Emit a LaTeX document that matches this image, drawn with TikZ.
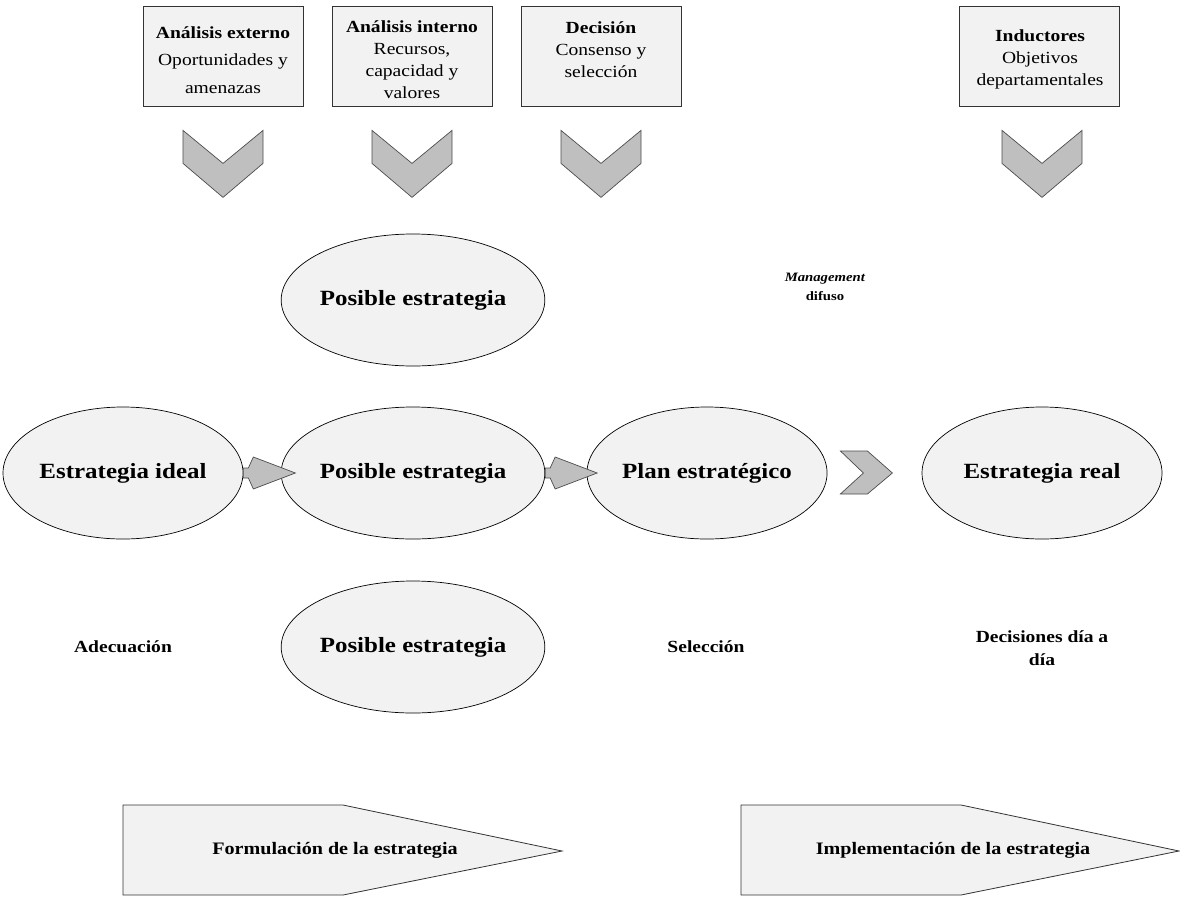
\documentclass[tikz,border=0pt]{standalone}
\usepackage{fontspec}
\setmainfont{Liberation Serif}[FakeStretch=1.15]
\usetikzlibrary{shapes.geometric,calc}
\definecolor{panel}{HTML}{F2F2F2}
\definecolor{chev}{HTML}{BFBFBF}
\begin{document}
\begin{tikzpicture}[x=1pt,y=-1pt,
  box/.style={draw=black!80, fill=panel, minimum width=160pt, minimum height=100pt, inner sep=0pt, line width=0.8pt},
  boxtext/.style={align=center, font=\fontsize{17}{22}\selectfont, inner sep=0pt},
  oval/.style={ellipse, draw=black, fill=panel, minimum width=240pt, minimum height=132pt, inner sep=0pt,
    font=\fontsize{21.7}{26}\selectfont\bfseries, line width=0.7pt},
  chevron/.style={draw=black!70, fill=chev, line width=0.7pt, line join=miter},
  caption/.style={font=\fontsize{17}{23}\selectfont\bfseries, align=center, inner sep=0pt},
  phase/.style={draw=black!80, fill=panel, line width=0.8pt},
  phasetext/.style={font=\fontsize{17.5}{21}\selectfont\bfseries, inner sep=0pt},
  downchev/.pic={\draw[chevron] (-40,0) -- (0,33) -- (40,0) -- (40,33) -- (0,67) -- (-40,33) -- cycle;},
  rightchev/.pic={\draw[chevron] (0,-22) -- (27,-22) -- (52,0) -- (27,21) -- (0,21) -- (23,0) -- cycle;},
  linkarrow/.pic={\draw[chevron] (0,-5) -- (5,-5) -- (10,-16) -- (52,0) -- (10,16) -- (5,5) -- (0,5) -- cycle;}
]
\useasboundingbox (0,0) rectangle (1180,897);

% input boxes
\node[box] (b1) at (223,56) {};
\node[box] (b2) at (412,56) {};
\node[box] (b3) at (601,56) {};
\node[box] (b4) at (1039,56) {};
\node[boxtext] (t1) at (223,60) {\textbf{Análisis externo}\\[5.5pt]Oportunidades y\\[5.5pt]amenazas};
\node[boxtext] (t2) at (412,60) {\textbf{Análisis interno}\\Recursos,\\capacidad y\\valores};
\node[boxtext] (t3) at (601,50) {\textbf{Decisión}\\Consenso y\\selección};
\node[boxtext] (t4) at (1040,59) {\textbf{Inductores}\\Objetivos\\departamentales};

% downward chevrons under the boxes
\path ($(b1.south)+(0,24)$) pic {downchev};
\path ($(b2.south)+(0,24)$) pic {downchev};
\path ($(b3.south)+(0,24)$) pic {downchev};
\path ($(b4.south)+(3,24)$) pic {downchev};

% strategy ellipses
\node[oval] (posA) at (413,300) {Posible estrategia};
\node[oval] (ideal) at (123,473) {Estrategia ideal};
\node[oval] (posB) at (413,473) {Posible estrategia};
\node[oval] (plan) at (707,473) {Plan estratégico};
\node[oval] (real) at (1042,473) {Estrategia real};
\node[oval] (posC) at (413,647) {Posible estrategia};

% links along the middle row
\path (ideal.east) pic {linkarrow};
\path (posB.east) pic {linkarrow};
\path ($(plan.east)+(13,0)$) pic {rightchev};

% side captions
\node[caption] (adec) at (123,647) {Adecuación};
\node[caption] (sel) at (706,647) {Selección};
\node[caption] (dia) at (1042,648) {Decisiones día a\\día};
\node[caption, font=\fontsize{12.8}{19}\selectfont\bfseries] (mgmt) at (825,287) {\textit{Management}\\difuso};

% phase arrows
\draw[phase] (123,805) -- (343,805) -- (562,851) -- (343,895) -- (123,895) -- cycle;
\node[phasetext] (form) at (335,850) {Formulación de la estrategia};
\draw[phase] (741,805) -- (961,805) -- (1179,851) -- (961,895) -- (741,895) -- cycle;
\node[phasetext] (impl) at (953,850) {Implementación de la estrategia};
\end{tikzpicture}
\end{document}
